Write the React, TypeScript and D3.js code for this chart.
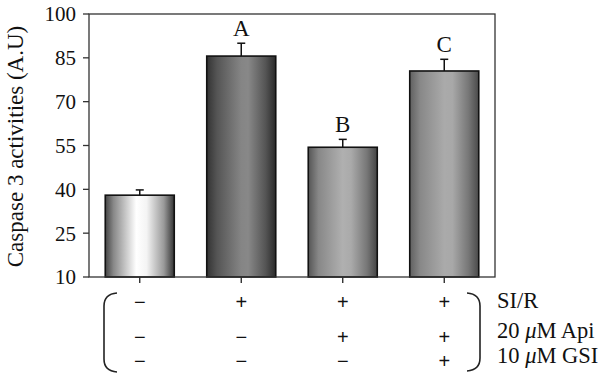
import React from "react";
import * as d3 from "d3";

const groups = ["G1", "G2", "G3", "G4"];
const values = [38, 85.6, 54.4, 80.5];
const errors = [1.8, 4.4, 2.7, 4.0];
const letters = ["", "A", "B", "C"];
const yTicks = [10, 25, 40, 55, 70, 85, 100];
const rowLabels = ["SI/R", "20 μM Api", "10 μM GSI"];
const treatments = [
  ["−", "+", "+", "+"],
  ["−", "−", "+", "+"],
  ["−", "−", "−", "+"],
];
const gradients = [
  [[0, "#444"], [0.12, "#888"], [0.45, "#fff"], [0.6, "#f4f4f4"], [0.85, "#999"], [1, "#333"]],
  [[0, "#333"], [0.15, "#555"], [0.5, "#858585"], [0.6, "#888"], [0.85, "#555"], [1, "#2a2a2a"]],
  [[0, "#555"], [0.15, "#888"], [0.5, "#b0b0b0"], [0.62, "#aaa"], [0.85, "#777"], [1, "#444"]],
  [[0, "#606060"], [0.15, "#888"], [0.5, "#aaa"], [0.62, "#a8a8a8"], [0.85, "#777"], [1, "#4a4a4a"]],
];

const W = 600, H = 377;
const L = 89, R = 495, T = 14, B = 277;
const serif = "'Liberation Serif', 'Times New Roman', serif";
const sans = "'Liberation Sans', Arial, sans-serif";

export default function App() {
  const x = d3.scaleBand<string>().domain(groups).range([L, R]).paddingInner(0.32).paddingOuter(0.16);
  const y = d3.scaleLinear().domain([10, 100]).range([B, T]);
  const rowYs = [309, 344, 368];
  const labelYs = [308, 338, 363];
  return (
    <svg width={W} height={H} style={{ position: "absolute", left: 0, top: 0, background: "#fff" }}>
      <defs>
        {gradients.map((g, i) => (
          <linearGradient key={i} id={`g${i}`} x1="0" x2="1" y1="0" y2="0">
            {g.map(([o, c], j) => (
              <stop key={j} offset={o as number} stopColor={c as string} />
            ))}
          </linearGradient>
        ))}
      </defs>
      {groups.map((g, i) => {
        const bx = x(g)!;
        const bw = x.bandwidth();
        const cx = bx + bw / 2;
        const top = y(values[i]);
        const et = y(values[i] + errors[i]);
        return (
          <g key={g}>
            <line x1={cx} x2={cx} y1={top} y2={et} stroke="#111" strokeWidth={1.5} />
            <line x1={cx - 4} x2={cx + 4} y1={et} y2={et} stroke="#111" strokeWidth={1.5} />
            <rect x={bx} y={top} width={bw} height={B - top} fill={`url(#g${i})`} stroke="#111" strokeWidth={1.6} />
            {letters[i] && (
              <text x={cx} y={et - 7} textAnchor="middle" fontFamily={serif} fontSize={23} fill="#111">
                {letters[i]}
              </text>
            )}
            <line x1={cx} x2={cx} y1={B} y2={B + 6} stroke="#222" strokeWidth={1.3} />
          </g>
        );
      })}
      <rect x={L} y={T} width={R - L} height={B - T} fill="none" stroke="#333" strokeWidth={1.3} />
      {yTicks.map((t) => (
        <g key={t}>
          <line x1={L - 6} x2={L} y1={y(t)} y2={y(t)} stroke="#333" strokeWidth={1.3} />
          <text x={L - 13} y={y(t)} dy="0.35em" textAnchor="end" fontFamily={serif} fontSize={21} fill="#111">
            {t}
          </text>
        </g>
      ))}
      <text
        transform={`translate(23,${(T + B) / 2 + 1}) rotate(-90)`}
        textAnchor="middle"
        fontFamily={serif}
        fontSize={23}
        fill="#111"
      >
        Caspase 3 activities (A.U)
      </text>
      {treatments.map((row, ri) =>
        row.map((s, ci) => (
          <text
            key={`${ri}-${ci}`}
            x={x(groups[ci])! + x.bandwidth() / 2}
            y={rowYs[ri]}
            textAnchor="middle"
            fontFamily={sans}
            fontSize={20}
            fill="#111"
          >
            {s}
          </text>
        ))
      )}
      <path d="M117,293 Q104,294 104,306 L104,359 Q104,371 117,372" fill="none" stroke="#222" strokeWidth={1.6} />
      <path d="M467,293 Q480,294 480,306 L480,358 Q480,370 467,371" fill="none" stroke="#222" strokeWidth={1.6} />
      {rowLabels.map((l, i) => {
        const parts = l.split("μ");
        return (
          <text key={l} x={497} y={labelYs[i]} fontFamily={serif} fontSize={22.5} fill="#111">
            {parts.length > 1 ? (
              <>
                {parts[0]}
                <tspan fontStyle="italic">μ</tspan>
                {parts[1]}
              </>
            ) : (
              l
            )}
          </text>
        );
      })}
    </svg>
  );
}
